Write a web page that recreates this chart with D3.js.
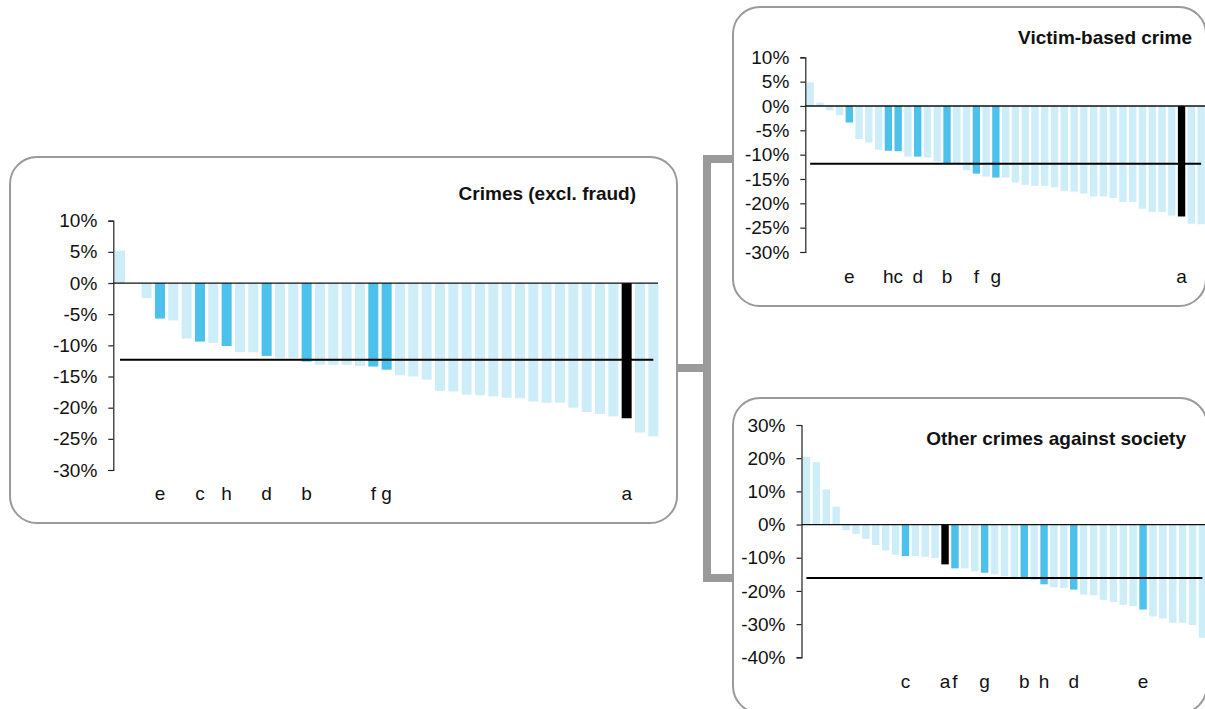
<!DOCTYPE html>
<html><head><meta charset="utf-8">
<script src="https://cdn.jsdelivr.net/npm/d3@7"></script>
<style>
html,body{margin:0;padding:0;background:#fff;}
svg{display:block;font-family:"Liberation Sans",Arial,sans-serif;}
</style></head>
<body><svg id="c" width="1205" height="709"></svg>
<script>
// ---- data ----
const crimesValues = [5.2, 0, -2.4, -5.7, -6.0, -8.9, -9.4, -9.6, -10.1, -11.1, -11.1, -11.7, -12.0, -12.0, -12.6, -13.1, -13.1, -13.1, -13.3, -13.4, -13.9, -14.8, -15.0, -15.5, -17.3, -17.4, -17.9, -18.0, -18.2, -18.4, -18.5, -19.0, -19.2, -19.2, -20.0, -20.7, -21.0, -21.4, -21.7, -24.0, -24.6];
const crimesLabels = {3:"e", 6:"c", 8:"h", 11:"d", 14:"b", 19:"f", 20:"g", 38:"a"};
const crimesAverage = -12.3;

const victimValues = [4.85, 0.7, -0.9, -1.9, -3.4, -6.8, -7.5, -9.0, -9.2, -9.3, -10.4, -10.4, -10.6, -11.4, -11.8, -11.8, -13.2, -13.9, -14.5, -14.7, -14.7, -15.7, -16.2, -16.4, -16.4, -16.7, -17.5, -17.6, -18.0, -18.6, -18.6, -18.9, -19.7, -19.7, -21.1, -21.8, -21.8, -22.5, -22.7, -24.2, -24.3];
const victimLabels = {4:"e", 8:"h", 9:"c", 11:"d", 14:"b", 17:"f", 19:"g", 38:"a"};
const victimAverage = -11.85;

const societyValues = [20.4, 18.8, 10.6, 5.4, -1.7, -2.8, -4.3, -6.2, -7.8, -9.1, -9.5, -9.5, -9.7, -10.1, -12.0, -13.2, -13.2, -14.1, -14.5, -15.0, -15.6, -15.9, -16.1, -16.8, -18.0, -18.9, -19.1, -19.6, -21.1, -21.3, -22.7, -23.4, -24.2, -24.6, -25.6, -27.7, -28.3, -29.6, -29.6, -30.3, -34.1];
const societyLabels = {10:"c", 14:"a", 15:"f", 18:"g", 22:"b", 24:"h", 27:"d", 34:"e"};
const societyAverage = -16.1;

const ticksA = [10, 5, 0, -5, -10, -15, -20, -25, -30];
const ticksB = [30, 20, 10, 0, -10, -20, -30, -40];

const titles = ["Crimes (excl. fraud)", "Victim-based crime", "Other crimes against society"];

// ---- drawing ----
const svg = d3.select("#c");
const LIGHT = "#cdedf9", BLUE = "#4bc1ec", BLACK = "#000000", GREY = "#9a9a9a";
const FS = 19;

// panels
function panel(x0, y0, x1, y1){
  svg.append("rect").attr("x", x0).attr("y", y0).attr("width", x1 - x0).attr("height", y1 - y0)
    .attr("rx", 27).attr("ry", 27).attr("fill", "#fff").attr("stroke", GREY).attr("stroke-width", 2);
}
panel(10, 157, 677, 523);
panel(733, 7, 1206, 306);
panel(733, 398, 1207, 713);

// connector
svg.append("path").attr("d", "M733,159 H707 V578 H733 M677,368 H707")
  .attr("fill", "none").attr("stroke", GREY).attr("stroke-width", 8).attr("stroke-linejoin", "miter");

function chart(cfg){
  const g = svg.append("g");
  const idx = cfg.values.map((d, i) => i);
  const x = d3.scaleBand().domain(idx).range([cfg.x0, cfg.x1]).paddingInner(0.25).paddingOuter(0.125);
  const y = d3.scaleLinear().domain(cfg.domain).range([cfg.yb, cfg.yt]);

  // bars
  g.selectAll("rect.bar").data(cfg.values).enter().append("rect")
    .attr("x", (d, i) => x(i)).attr("width", x.bandwidth())
    .attr("y", d => y(Math.max(0, d))).attr("height", d => Math.abs(y(d) - y(0)))
    .attr("fill", (d, i) => {
      const l = cfg.labels[i];
      if (!l) return LIGHT;
      return l === "a" ? BLACK : BLUE;
    });

  // axis
  const axis = d3.axisLeft(y).tickValues(cfg.ticks).tickFormat(d => d + "%").tickSize(5).tickPadding(11);
  const ag = g.append("g").attr("transform", `translate(${cfg.x0},0)`).call(axis);
  ag.select(".domain").attr("stroke", "#222").attr("stroke-width", 1.2);
  ag.selectAll(".tick line").attr("stroke", "#222").attr("stroke-width", 1.2);
  ag.selectAll(".tick text").attr("font-size", FS).attr("fill", "#111")
    .attr("font-family", "Liberation Sans, Arial, sans-serif");

  // zero line
  g.append("line").attr("x1", cfg.x0).attr("x2", cfg.zeroEnd)
    .attr("y1", y(0)).attr("y2", y(0)).attr("stroke", "#111").attr("stroke-width", 1.3);

  // average line
  const st = x.step();
  g.append("line").attr("x1", cfg.x0 + st * 0.5).attr("x2", cfg.x1 - st * 0.5)
    .attr("y1", y(cfg.avg)).attr("y2", y(cfg.avg)).attr("stroke", "#000").attr("stroke-width", 2);

  // category labels
  Object.entries(cfg.labels).forEach(([i, l]) => {
    g.append("text").attr("x", x(+i) + x.bandwidth() / 2).attr("y", cfg.labelY)
      .attr("text-anchor", "middle").attr("font-size", FS).attr("fill", "#111").text(l);
  });

  // title
  g.append("text").attr("x", cfg.titleX).attr("y", cfg.titleY).attr("text-anchor", "end")
    .attr("font-size", FS).attr("font-weight", "bold").attr("fill", "#111").text(cfg.title);
}

chart({values: crimesValues, labels: crimesLabels, avg: crimesAverage, ticks: ticksA, domain: [-30, 10],
  x0: 113.3, x1: 660, yb: 470, yt: 220.7, zeroEnd: 658, labelY: 500, title: titles[0], titleX: 636, titleY: 200});
chart({values: victimValues, labels: victimLabels, avg: victimAverage, ticks: ticksA, domain: [-30, 10],
  x0: 805.3, x1: 1206, yb: 252, yt: 57.3, zeroEnd: 1206, labelY: 283, title: titles[1], titleX: 1192, titleY: 44});
chart({values: societyValues, labels: societyLabels, avg: societyAverage, ticks: ticksB, domain: [-40, 30],
  x0: 801.5, x1: 1207.4, yb: 657.3, yt: 425, zeroEnd: 1207, labelY: 687.5, title: titles[2], titleX: 1186, titleY: 445});
</script></body></html>
